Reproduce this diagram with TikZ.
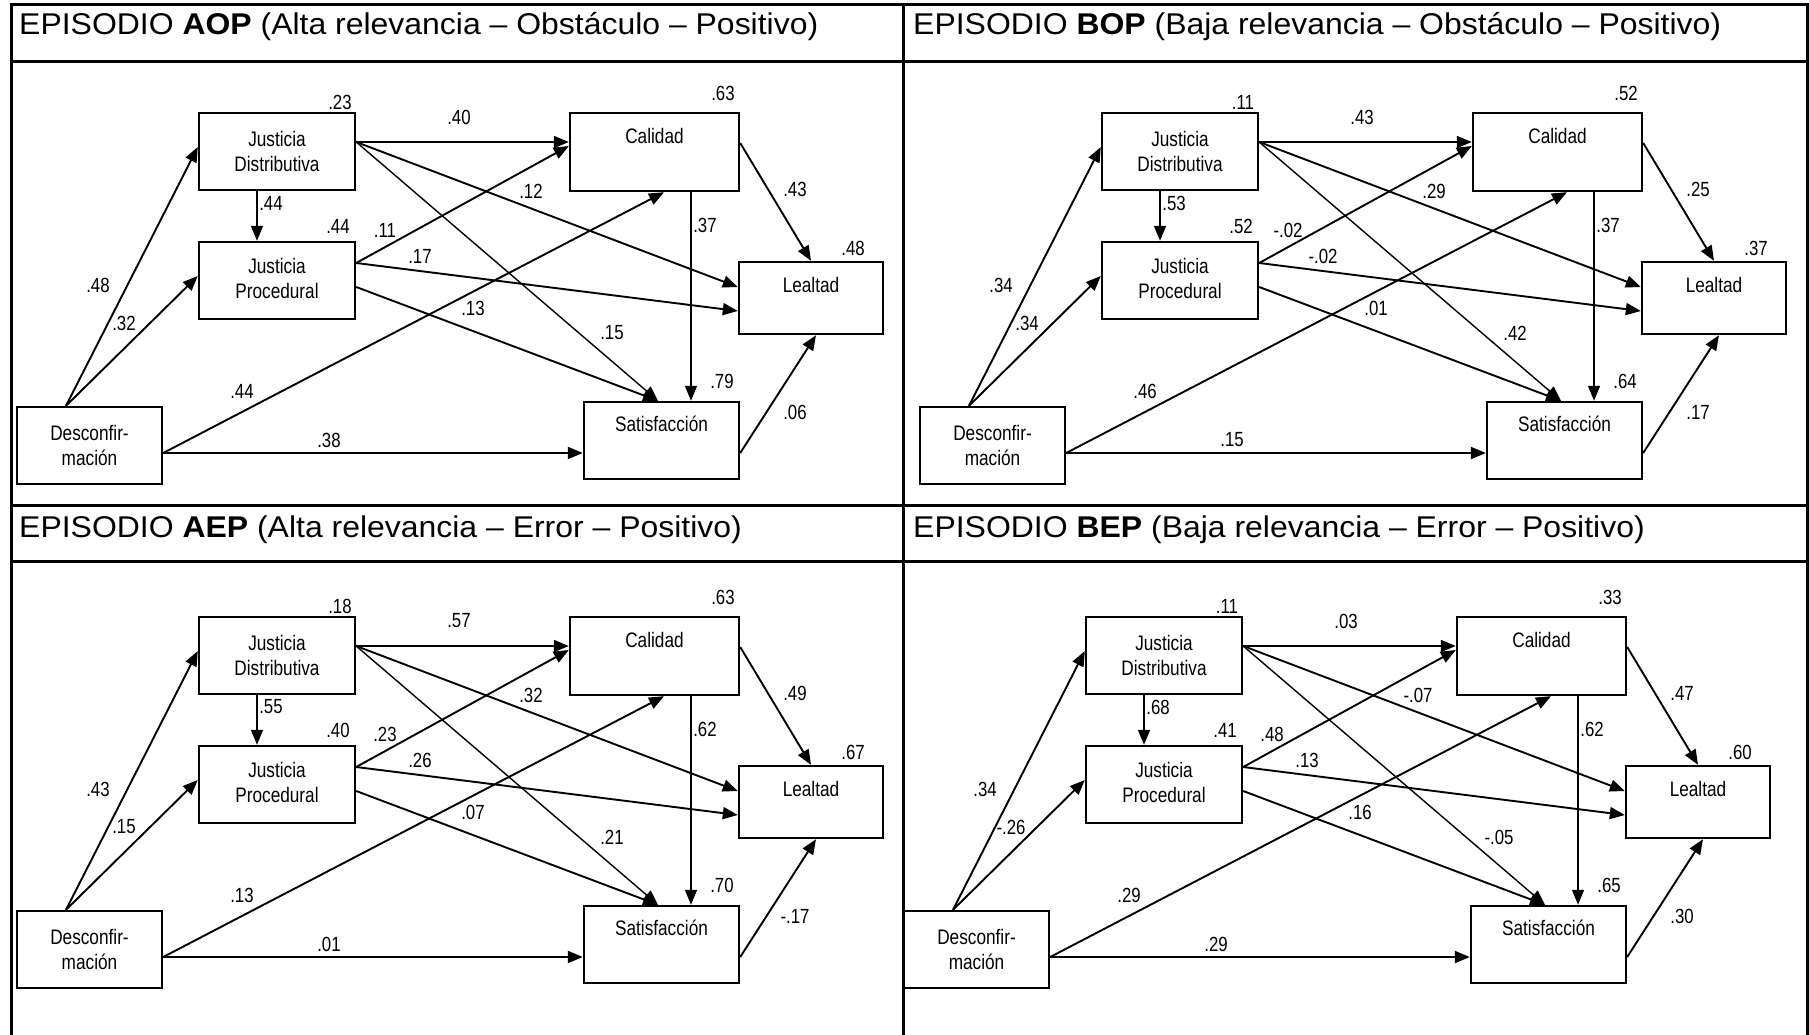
\documentclass[tikz,border=0pt]{standalone}
\usepackage{fontspec}
\setmainfont{Liberation Sans}
\newfontfamily\narrowfont{Liberation Sans}[FakeStretch=0.82]
\newfontfamily\headfont{Liberation Sans}[FakeStretch=1.065]
\usetikzlibrary{arrows.meta}

\tikzset{
  tablerule/.style={line width=3pt},
  box/.style={draw, line width=2.4pt, inner sep=0pt},
  boxtext/.style={font=\narrowfont\fontsize{21}{25}\selectfont, align=center, inner sep=0pt},
  coef/.style={font=\narrowfont\fontsize{20.5}{22}\selectfont, inner sep=0pt},
  headtext/.style={font=\headfont\fontsize{30}{32}\selectfont, inner sep=0pt, anchor=base west},
  link/.style={line width=1.9pt, -{Triangle[length=15pt,width=12pt]}},
  thinlink/.style={link, line width=1.4pt},
}

% positions of the coefficients inside one path model
\def\coefX{{340,723,338,853,722,98,124,242,329,459,531,612,271,385,420,473,705,795,795}}
\def\coefY{{102,93,226,248,381,285,323,391,440,117,191,333,203,230,256,308,225,189,412}}

% one path model: #1 name prefix, #2 x shift, #3 y shift, #4 coefficients
\newcommand\pathmodel[4]{%
\begin{scope}[shift={(#2,#3)}]
  \node[box, minimum width=145pt, minimum height=77pt] (#1-desc) at (89.5,445.5) {};
  \node[box, minimum width=156pt, minimum height=77pt] (#1-jd) at (277,151.5) {};
  \node[box, minimum width=156pt, minimum height=77pt] (#1-jp) at (277,280.5) {};
  \node[box, minimum width=169pt, minimum height=78pt] (#1-cal) at (654.5,152) {};
  \node[box, minimum width=144pt, minimum height=72pt] (#1-leal) at (811,298) {};
  \node[box, minimum width=155pt, minimum height=77pt] (#1-sat) at (661.5,440.5) {};
  \node[boxtext] (#1-desc-t) at (#1-desc) {Desconfir-\\mación};
  \node[boxtext] (#1-jd-t) at (#1-jd) {Justicia\\Distributiva};
  \node[boxtext] (#1-jp-t) at ([yshift=2pt]#1-jp) {Justicia\\Procedural};
  \node[boxtext] (#1-cal-t) at ([yshift=-24pt]#1-cal.north) {Calidad};
  \node[boxtext] (#1-leal-t) at ([yshift=-24pt]#1-leal.north) {Lealtad};
  \node[boxtext] (#1-sat-t) at ([yshift=-23pt]#1-sat.north) {Satisfacción};
  \draw[link] ([xshift=-23.5pt]#1-desc.north) -- ([yshift=4.5pt]#1-jd.west);
  \draw[link] ([xshift=-23.5pt]#1-desc.north) -- ([yshift=4.5pt]#1-jp.west);
  \draw[link] ([yshift=-7.5pt]#1-desc.east) -- ([xshift=9.5pt]#1-cal.south);
  \draw[link] ([yshift=-7.5pt]#1-desc.east) -- ([yshift=-12.5pt]#1-sat.west);
  \draw[link] ([yshift=9.5pt]#1-jd.east) -- ([yshift=10pt]#1-cal.west);
  \draw[link] ([yshift=9.5pt]#1-jd.east) -- ([yshift=11pt]#1-leal.west);
  \draw[thinlink] ([yshift=9.5pt]#1-jd.east) -- ([xshift=-3.5pt]#1-sat.north);
  \draw[thinlink] ([xshift=-20pt]#1-jd.south) -- ([xshift=-20pt]#1-jp.north);
  \draw[link] ([yshift=17.5pt]#1-jp.east) -- ([yshift=6pt]#1-cal.west);
  \draw[link] ([yshift=17.5pt]#1-jp.east) -- ([yshift=-13pt]#1-leal.west);
  \draw[link] ([yshift=-6.5pt]#1-jp.east) -- ([xshift=-3.5pt]#1-sat.north);
  \draw[thinlink] ([xshift=36.5pt]#1-cal.south) -- ([xshift=29.5pt]#1-sat.north);
  \draw[link] ([yshift=9pt]#1-cal.east) -- (#1-leal.north);
  \draw[link] ([yshift=-12.5pt]#1-sat.east) -- ([xshift=5pt]#1-leal.south);
  \foreach \v [count=\i] in {#4} {
    \pgfmathsetmacro\cx{\coefX[\i-1]}
    \pgfmathsetmacro\cy{\coefY[\i-1]}
    \node[coef] (#1-c\i) at (\cx,\cy) {\v};
  }
\end{scope}}

\begin{document}
\begin{tikzpicture}[x=1pt, y=-1pt]
  \useasboundingbox (0,0) rectangle (1809,1035);
  \fill[white] (0,0) rectangle (1809,1035);

  % table frame
  \draw[tablerule] (11.5,1035) -- (11.5,5) -- (1807.5,5) -- (1807.5,1035);
  \draw[tablerule] (11.5,62) -- (1807.5,62);
  \draw[tablerule] (11.5,505) -- (1807.5,505);
  \draw[tablerule] (11.5,561) -- (1807.5,561);
  \draw[tablerule] (903,5) -- (903,1035);

  % headings
  \node[headtext] (hdr-aop) at (19,35) {EPISODIO \textbf{AOP} (Alta relevancia – Obstáculo – Positivo)};
  \node[headtext] (hdr-bop) at (913,35) {EPISODIO \textbf{BOP} (Baja relevancia – Obstáculo – Positivo)};
  \node[headtext] (hdr-aep) at (19,537) {EPISODIO \textbf{AEP} (Alta relevancia – Error – Positivo)};
  \node[headtext] (hdr-bep) at (913,537) {EPISODIO \textbf{BEP} (Baja relevancia – Error – Positivo)};

  % the four path models
  \pathmodel{aop}{0}{0}{.23,.63,.44,.48,.79,.48,.32,.44,.38,.40,.12,.15,.44,.11,.17,.13,.37,.43,.06}
  \pathmodel{bop}{903}{0}{.11,.52,.52,.37,.64,.34,.34,.46,.15,.43,.29,.42,.53,-.02,-.02,.01,.37,.25,.17}
  \pathmodel{aep}{0}{504}{.18,.63,.40,.67,.70,.43,.15,.13,.01,.57,.32,.21,.55,.23,.26,.07,.62,.49,-.17}
  \pathmodel{bep}{887}{504}{.11,.33,.41,.60,.65,.34,-.26,.29,.29,.03,-.07,-.05,.68,.48,.13,.16,.62,.47,.30}
\end{tikzpicture}
\end{document}
